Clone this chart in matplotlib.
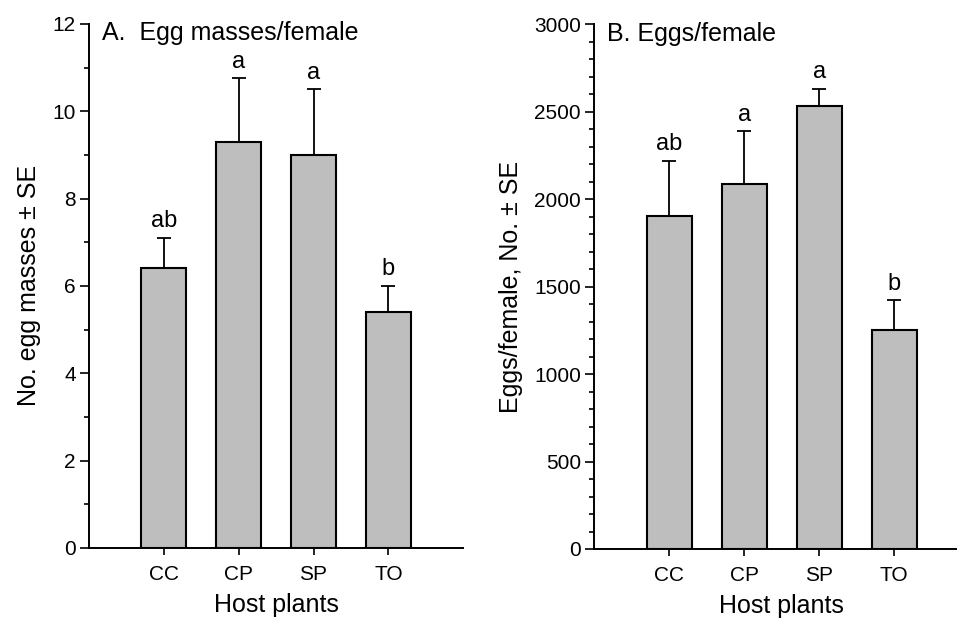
import numpy as np
import matplotlib.pyplot as plt
from matplotlib.ticker import MultipleLocator

plt.rcParams['font.family'] = ['Liberation Sans', 'DejaVu Sans']

plants = ['CC', 'CP', 'SP', 'TO']
masses = [6.4, 9.3, 9.0, 5.4]
masses_se = [0.7, 1.45, 1.5, 0.6]
masses_letters = ['ab', 'a', 'a', 'b']
eggs = [1905, 2088, 2532, 1252]
eggs_se = [315, 300, 100, 170]
eggs_letters = ['ab', 'a', 'a', 'b']

fig = plt.figure(figsize=(9.57, 6.24), dpi=100)
axA = fig.add_axes([0.093, 0.1218, 0.391, 0.840])
axB = fig.add_axes([0.6207, 0.1202, 0.392, 0.841])

x = np.arange(1, 5)


def panel(ax, vals, se, letters, ymax, major, minor, ylabel, title):
    ax.bar(x, vals, width=0.6, color='#bebebe', edgecolor='black', linewidth=1.5, zorder=2)
    ax.errorbar(x, vals, yerr=[np.zeros(4), se], fmt='none', ecolor='black',
                elinewidth=1.3, capsize=5, capthick=1.3, zorder=1)
    for xi, v, s, t in zip(x, vals, se, letters):
        ax.annotate(t, (xi, v + s), xytext=(0, 4), textcoords='offset points',
                    ha='center', va='bottom', fontsize=17)
    ax.set_xlim(0, 5)
    ax.set_ylim(0, ymax)
    ax.set_xticks(x)
    ax.set_xticklabels(plants, fontsize=15)
    ax.yaxis.set_major_locator(MultipleLocator(major))
    ax.yaxis.set_minor_locator(MultipleLocator(minor))
    for sp in ['top', 'right']:
        ax.spines[sp].set_visible(False)
    for sp in ['left', 'bottom']:
        ax.spines[sp].set_linewidth(1.4)
    ax.tick_params(axis='y', which='major', direction='out', length=6.5, width=1.2, labelsize=15, pad=3)
    ax.tick_params(axis='y', which='minor', direction='out', length=3.5, width=1.2)
    ax.tick_params(axis='x', direction='out', length=5, width=1.2, pad=7)
    ax.set_xlabel('Host plants', fontsize=18, labelpad=7)
    ax.set_ylabel(ylabel, fontsize=18, labelpad=8)
    ax.text(0.035, 1.005, title, transform=ax.transAxes, ha='left', va='top', fontsize=18)


panel(axA, masses, masses_se, masses_letters, 12, 2, 1,
      'No. egg masses \u00b1 SE', 'A.  Egg masses/female')
panel(axB, eggs, eggs_se, eggs_letters, 3000, 500, 100,
      'Eggs/female, No. \u00b1 SE', 'B. Eggs/female')

fig.savefig('out.png', dpi=100)
plt.close(fig)
